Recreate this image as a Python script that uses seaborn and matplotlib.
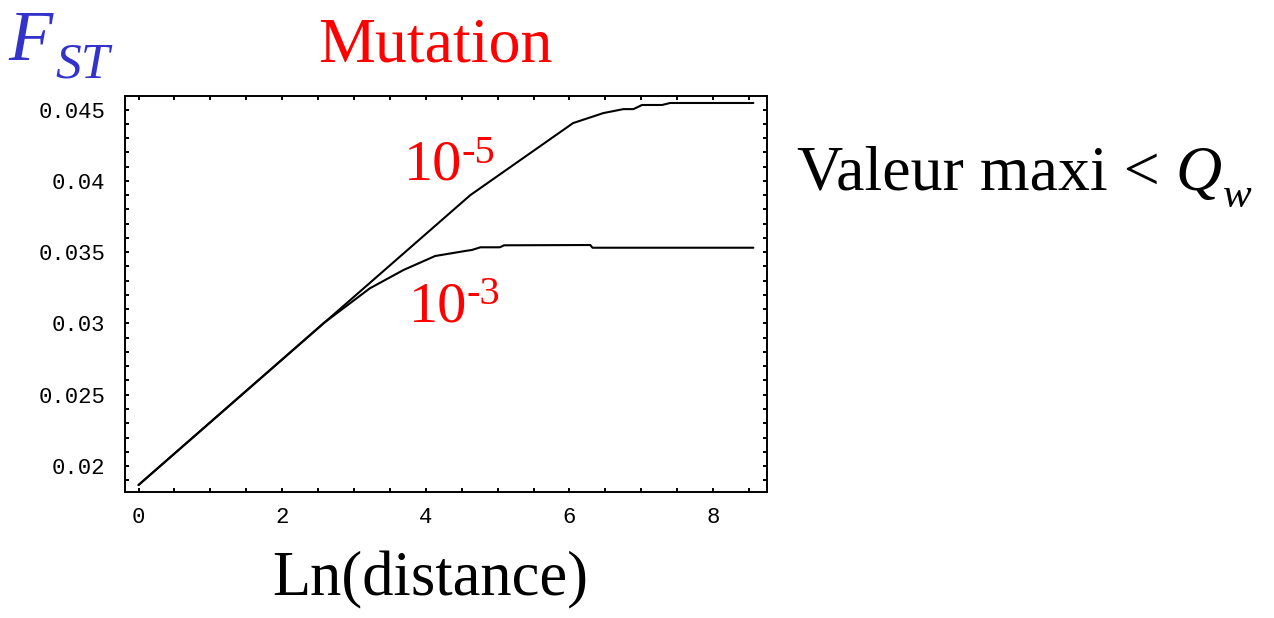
import matplotlib
matplotlib.use("Agg")
import matplotlib.pyplot as plt
import seaborn as sns
import pandas as pd

# ---- data ----
x_mut5 = [0.0, 4.62, 6.05, 6.47, 6.75, 6.89, 7.01, 7.29, 7.40, 8.56]
y_mut5 = [0.01867, 0.0390, 0.04405, 0.04475, 0.04503, 0.04503, 0.04532, 0.04532, 0.04546, 0.04546]

x_mut3 = [0.0, 2.58, 3.22, 3.69, 4.13, 4.57, 4.64, 4.76, 5.03, 5.09, 6.29, 6.32, 8.56]
y_mut3 = [0.01867, 0.03003, 0.03246, 0.03375, 0.03473, 0.03510, 0.03515, 0.03534, 0.03534,
          0.03548, 0.03550, 0.03531, 0.03531]

x_ticks = [0, 2, 4, 6, 8]
x_ticklabels = ["0", "2", "4", "6", "8"]
y_ticks = [0.02, 0.025, 0.03, 0.035, 0.04, 0.045]
y_ticklabels = ["0.02", "0.025", "0.03", "0.035", "0.04", "0.045"]

df = pd.concat([
    pd.DataFrame({"x": x_mut5, "y": y_mut5, "mu": "1e-5"}),
    pd.DataFrame({"x": x_mut3, "y": y_mut3, "mu": "1e-3"}),
])

sns.set_theme(style="white")
plt.rcParams["font.family"] = ["Liberation Serif", "DejaVu Serif"]

W, H = 1274, 618
fig = plt.figure(figsize=(W / 100, H / 100), dpi=100)
ax = fig.add_axes([124.5 / W, 1 - 492 / H, (767 - 124.5) / W, (492 - 96) / H])

for mu, sub in df.groupby("mu", sort=False):
    sns.lineplot(data=sub, x="x", y="y", ax=ax, color="black", linewidth=1.5,
                 estimator=None, sort=False, legend=False)

ax.set_xlim(-0.195, 8.75)
ax.set_ylim(0.01818, 0.04595)
ax.set_xlabel("")
ax.set_ylabel("")

ax.set_xticks(x_ticks)
ax.set_xticklabels(x_ticklabels)
ax.set_yticks(y_ticks)
ax.set_yticklabels(y_ticklabels)
ax.xaxis.set_minor_locator(matplotlib.ticker.MultipleLocator(0.5))
ax.yaxis.set_minor_locator(matplotlib.ticker.MultipleLocator(0.001))
ax.tick_params(which="both", direction="in", top=True, right=True, bottom=True, left=True,
               length=3, width=1.4, color="black")
ax.tick_params(axis="x", which="major", labelsize=16, pad=11)
ax.tick_params(axis="y", which="major", labelsize=16, pad=14)
for lab in ax.get_xticklabels() + ax.get_yticklabels():
    lab.set_fontfamily("Liberation Mono")
    lab.set_color("black")
for sp in ax.spines.values():
    sp.set_visible(True)
    sp.set_color("black")
    sp.set_linewidth(1.4)
ax.grid(False)

red = "#FF0000"
blue = "#3333CC"

# curve labels
ax.text(3.70, 0.0401, "10", color=red, fontsize=42, ha="left", va="baseline")
ax.text(4.50, 0.04125, "-5", color=red, fontsize=29, ha="left", va="baseline")
ax.text(3.76, 0.03015, "10", color=red, fontsize=42, ha="left", va="baseline")
ax.text(4.56, 0.03135, "-3", color=red, fontsize=29, ha="left", va="baseline")

fig.canvas.draw()
renderer = fig.canvas.get_renderer()

def fx(px):
    return px / W

def fy(py):
    return 1 - py / H

# F_ST
fig.text(fx(8), fy(60), "F", color=blue, fontsize=52, style="italic", ha="left", va="baseline")
fig.text(fx(55), fy(77), "ST", color=blue, fontsize=37, style="italic", ha="left", va="baseline")

# title
fig.text(fx(318), fy(62), "Mutation", color=red, fontsize=46, ha="left", va="baseline")

# Valeur maxi < Q_w
tV = fig.text(fx(797), fy(190), "Valeur maxi < ", color="black", fontsize=46, ha="left", va="baseline")
fig.canvas.draw()
bb = tV.get_window_extent(renderer)
tQ = fig.text(bb.x1 / W, fy(190), "Q", color="black", fontsize=46, style="italic", ha="left", va="baseline")
fig.canvas.draw()
bq = tQ.get_window_extent(renderer)
fig.text(bq.x1 / W + 0.001, fy(207), "w", color="black", fontsize=31, style="italic", ha="left", va="baseline")

# x label
fig.text(fx(430), fy(595), "Ln(distance)", color="black", fontsize=45, ha="center", va="baseline")

fig.savefig("out.png", dpi=100)
